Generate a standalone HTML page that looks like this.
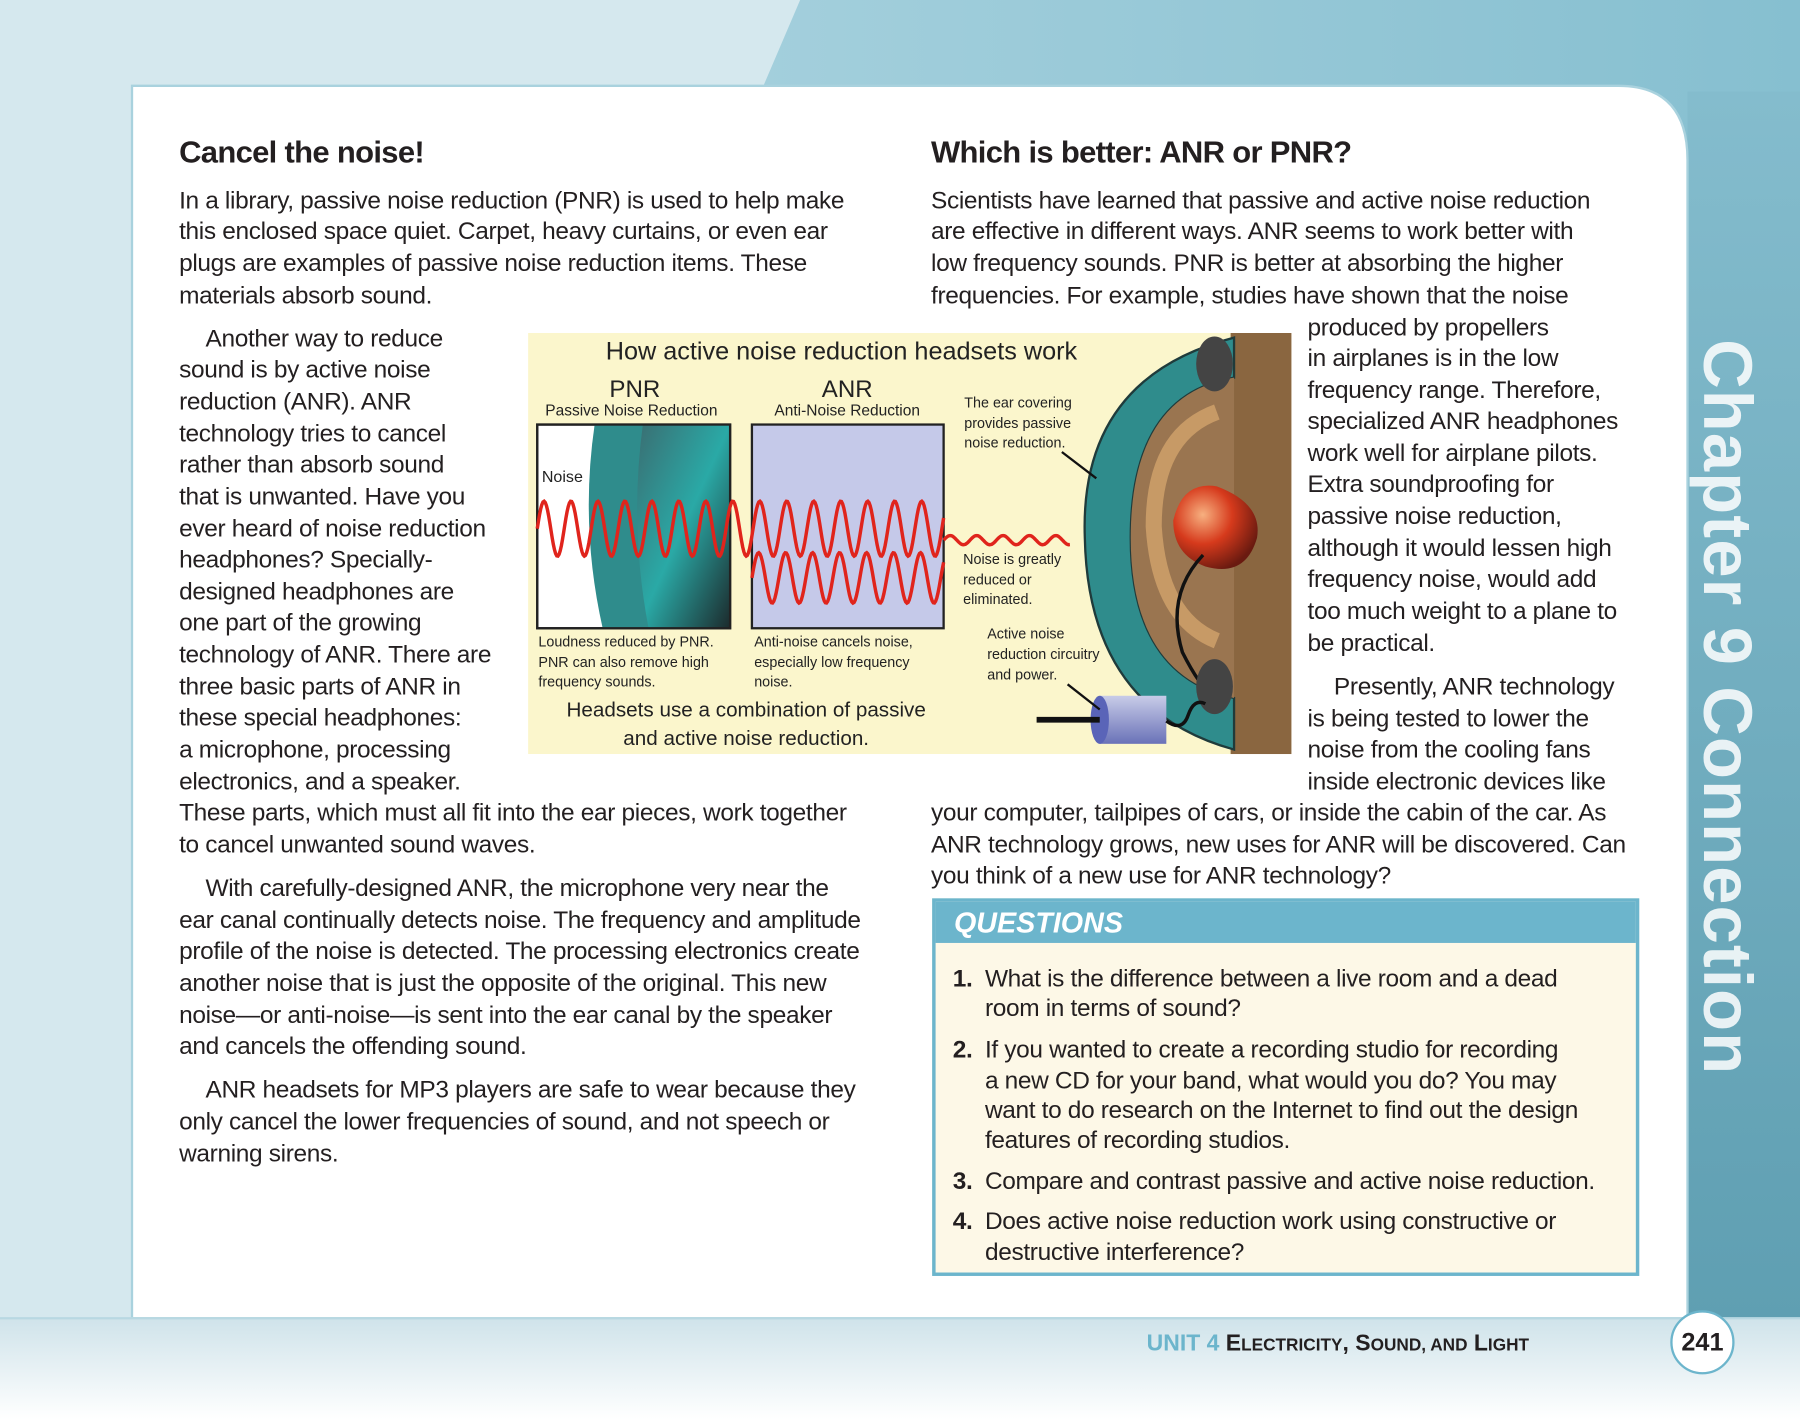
<!DOCTYPE html>
<html><head><meta charset="utf-8">
<style>
html,body{margin:0;padding:0;width:1800px;height:1419px;overflow:hidden;background:#fff}
#wrap{position:absolute;left:0;top:0;width:1568px;height:1240px;transform:scale(1.14796,1.14435);transform-origin:0 0;font-family:"Liberation Sans",sans-serif;color:#231f20}
.l{position:absolute;white-space:nowrap;font-size:21.3px;line-height:28px;letter-spacing:-0.3px;margin-top:2px}
.h{position:absolute;white-space:nowrap;font-size:27px;font-weight:bold;letter-spacing:-0.6px;margin-top:1px}
.n{font-weight:bold}
</style></head><body>
<div id="wrap">
<svg width="1568" height="1240" style="position:absolute;left:0;top:0">
<defs>
<linearGradient id="bgR" x1="0" x2="1" y1="0" y2="0"><stop offset="0" stop-color="#a3cfdc"/><stop offset="1" stop-color="#86bfd0"/></linearGradient>
<linearGradient id="strip" x1="0" x2="0" y1="0" y2="1"><stop offset="0" stop-color="#84bccd"/><stop offset="1" stop-color="#5f9fb2"/></linearGradient>
<linearGradient id="foot" x1="0" x2="0" y1="0" y2="1"><stop offset="0" stop-color="#cfe3ea"/><stop offset="1" stop-color="#ffffff"/></linearGradient>
</defs>
<rect x="0" y="0" width="1568" height="1240" fill="#d5e8ee"/>
<polygon points="697,0 1568,0 1568,1152 665,1152 665,75" fill="url(#bgR)"/>
<rect x="1470" y="80" width="98" height="1072" fill="url(#strip)"/>
<path d="M115,75 L1410,75 Q1470,75 1470,140 L1470,1152 L115,1152 Z" fill="#fff" stroke="#a9d2de" stroke-width="2"/>
<rect x="0" y="1152" width="1568" height="88" fill="url(#foot)"/>
<line x1="0" y1="1152" x2="1568" y2="1152" stroke="#b8d8e2" stroke-width="2"/>
</svg>

<div style="position:absolute;left:1505px;top:618px;transform:translate(-50%,-50%) rotate(90deg);white-space:nowrap;font-size:60px;font-weight:bold;color:#fff;letter-spacing:1px;opacity:.85">Chapter 9 Connection</div>

<div class="h" style="left:156px;top:117px">Cancel the noise!</div>
<div class="h" style="left:811px;top:117px">Which is better: ANR or PNR?</div>

<div>
<div class="l" style="left:156px;top:159px">In a library, passive noise reduction (PNR) is used to help make</div>
<div class="l" style="left:156px;top:186px">this enclosed space quiet. Carpet, heavy curtains, or even ear</div>
<div class="l" style="left:156px;top:214px">plugs are examples of passive noise reduction items. These</div>
<div class="l" style="left:156px;top:242px">materials absorb sound.</div>
<div class="l" style="left:179px;top:280px">Another way to reduce</div>
<div class="l" style="left:156px;top:307px">sound is by active noise</div>
<div class="l" style="left:156px;top:335px">reduction (ANR). ANR</div>
<div class="l" style="left:156px;top:363px">technology tries to cancel</div>
<div class="l" style="left:156px;top:390px">rather than absorb sound</div>
<div class="l" style="left:156px;top:418px">that is unwanted. Have you</div>
<div class="l" style="left:156px;top:446px">ever heard of noise reduction</div>
<div class="l" style="left:156px;top:473px">headphones? Specially-</div>
<div class="l" style="left:156px;top:501px">designed headphones are</div>
<div class="l" style="left:156px;top:528px">one part of the growing</div>
<div class="l" style="left:156px;top:556px">technology of ANR. There are</div>
<div class="l" style="left:156px;top:584px">three basic parts of ANR in</div>
<div class="l" style="left:156px;top:611px">these special headphones:</div>
<div class="l" style="left:156px;top:639px">a microphone, processing</div>
<div class="l" style="left:156px;top:667px">electronics, and a speaker.</div>
<div class="l" style="left:156px;top:694px">These parts, which must all fit into the ear pieces, work together</div>
<div class="l" style="left:156px;top:722px">to cancel unwanted sound waves.</div>
<div class="l" style="left:179px;top:760px">With carefully-designed ANR, the microphone very near the</div>
<div class="l" style="left:156px;top:788px">ear canal continually detects noise. The frequency and amplitude</div>
<div class="l" style="left:156px;top:815px">profile of the noise is detected. The processing electronics create</div>
<div class="l" style="left:156px;top:843px">another noise that is just the opposite of the original. This new</div>
<div class="l" style="left:156px;top:871px">noise—or anti-noise—is sent into the ear canal by the speaker</div>
<div class="l" style="left:156px;top:898px">and cancels the offending sound.</div>
<div class="l" style="left:179px;top:936px">ANR headsets for MP3 players are safe to wear because they</div>
<div class="l" style="left:156px;top:964px">only cancel the lower frequencies of sound, and not speech or</div>
<div class="l" style="left:156px;top:992px">warning sirens.</div>
</div>

<div>
<div class="l" style="left:811px;top:159px">Scientists have learned that passive and active noise reduction</div>
<div class="l" style="left:811px;top:186px">are effective in different ways. ANR seems to work better with</div>
<div class="l" style="left:811px;top:214px">low frequency sounds. PNR is better at absorbing the higher</div>
<div class="l" style="left:811px;top:242px">frequencies. For example, studies have shown that the noise</div>
<div class="l" style="left:1139px;top:270px">produced by propellers</div>
<div class="l" style="left:1139px;top:297px">in airplanes is in the low</div>
<div class="l" style="left:1139px;top:325px">frequency range. Therefore,</div>
<div class="l" style="left:1139px;top:352px">specialized ANR headphones</div>
<div class="l" style="left:1139px;top:380px">work well for airplane pilots.</div>
<div class="l" style="left:1139px;top:407px">Extra soundproofing for</div>
<div class="l" style="left:1139px;top:435px">passive noise reduction,</div>
<div class="l" style="left:1139px;top:463px">although it would lessen high</div>
<div class="l" style="left:1139px;top:490px">frequency noise, would add</div>
<div class="l" style="left:1139px;top:518px">too much weight to a plane to</div>
<div class="l" style="left:1139px;top:546px">be practical.</div>
<div class="l" style="left:1162px;top:584px">Presently, ANR technology</div>
<div class="l" style="left:1139px;top:612px">is being tested to lower the</div>
<div class="l" style="left:1139px;top:639px">noise from the cooling fans</div>
<div class="l" style="left:1139px;top:667px">inside electronic devices like</div>
<div class="l" style="left:811px;top:694px">your computer, tailpipes of cars, or inside the cabin of the car. As</div>
<div class="l" style="left:811px;top:722px">ANR technology grows, new uses for ANR will be discovered. Can</div>
<div class="l" style="left:811px;top:749px">you think of a new use for ANR technology?</div>
</div>

<div style="position:absolute;left:812px;top:785px;width:610px;height:324px;border:3px solid #6cb5cc;background:#fdf8e7">
<div style="height:36px;background:#6cb5cc;color:#fff;font-weight:bold;font-style:italic;font-size:25px;line-height:38px;padding-left:16px">QUESTIONS</div>
</div>
<div>
<div class="l" style="left:830px;top:839px"><span class="n">1.</span></div>
<div class="l" style="left:858px;top:839px">What is the difference between a live room and a dead</div>
<div class="l" style="left:858px;top:865px">room in terms of sound?</div>
<div class="l" style="left:830px;top:901px"><span class="n">2.</span></div>
<div class="l" style="left:858px;top:901px">If you wanted to create a recording studio for recording</div>
<div class="l" style="left:858px;top:928px">a new CD for your band, what would you do? You may</div>
<div class="l" style="left:858px;top:954px">want to do research on the Internet to find out the design</div>
<div class="l" style="left:858px;top:980px">features of recording studios.</div>
<div class="l" style="left:830px;top:1016px"><span class="n">3.</span></div>
<div class="l" style="left:858px;top:1016px">Compare and contrast passive and active noise reduction.</div>
<div class="l" style="left:830px;top:1051px"><span class="n">4.</span></div>
<div class="l" style="left:858px;top:1051px">Does active noise reduction work using constructive or</div>
<div class="l" style="left:858px;top:1078px">destructive interference?</div>
</div>

<svg id="diag" width="665" height="368" viewBox="460 291 665 368" style="position:absolute;left:460px;top:291px" font-family="Liberation Sans, sans-serif">
<defs>
<linearGradient id="dark" x1="0" x2="1" y1="0" y2="1"><stop offset="0" stop-color="#3a6e72"/><stop offset=".5" stop-color="#2aa9a6"/><stop offset="1" stop-color="#1c2a2c"/></linearGradient>
<radialGradient id="plug" cx=".35" cy=".35" r=".7"><stop offset="0" stop-color="#f7b080"/><stop offset=".5" stop-color="#d63a1c"/><stop offset="1" stop-color="#6a1a10"/></radialGradient>
<linearGradient id="cyl" x1="0" x2="0" y1="0" y2="1"><stop offset="0" stop-color="#c8cce8"/><stop offset="1" stop-color="#6a72b8"/></linearGradient>
</defs>
<rect x="460" y="291" width="665" height="368" fill="#fbf6cc"/>
<rect x="1072" y="291" width="53" height="368" fill="#8a6640"/>
<path d="M1075,295 Q940,330 945,470 Q948,620 1075,655 L1075,610 Q985,590 985,470 Q985,345 1075,330 Z" fill="#2f8c8c" stroke="#1f3b3b" stroke-width="2"/>
<path d="M1075,330 Q985,345 985,470 Q985,590 1075,610 Z" fill="#9a7550"/>
<path d="M1060,360 Q1005,380 1005,460 Q1010,540 1060,560" fill="none" stroke="#c79a66" stroke-width="14"/>
<path d="M1022,455 Q1030,420 1060,425 Q1100,440 1095,470 Q1085,505 1050,495 Q1022,485 1022,455 Z" fill="url(#plug)"/>
<path d="M1048,485 Q1015,520 1030,570 Q1045,600 1058,610" fill="none" stroke="#111" stroke-width="3"/>
<ellipse cx="1058" cy="318" rx="16" ry="24" fill="#444"/>
<ellipse cx="1058" cy="600" rx="16" ry="24" fill="#444"/>
<rect x="958" y="608" width="58" height="42" fill="url(#cyl)"/>
<ellipse cx="958" cy="629" rx="8" ry="21" fill="#5a64b8"/>
<line x1="903" y1="629" x2="958" y2="629" stroke="#111" stroke-width="5"/>
<path d="M1016,630 Q1030,640 1035,625 Q1040,610 1050,615" fill="none" stroke="#111" stroke-width="3"/>
<line x1="925" y1="395" x2="955" y2="418" stroke="#111" stroke-width="2"/>
<line x1="930" y1="598" x2="958" y2="620" stroke="#111" stroke-width="2"/>
<rect x="468" y="371" width="168" height="178" fill="#fff" stroke="#222" stroke-width="2"/>
<path d="M518,371 Q505,460 525,549 L636,549 L636,371 Z" fill="#2f8c8c"/>
<path d="M560,371 Q548,460 565,549 L636,549 L636,371 Z" fill="url(#dark)"/>
<rect x="468" y="371" width="168" height="178" fill="none" stroke="#222" stroke-width="2"/>
<rect x="655" y="371" width="167" height="178" fill="#c5c9e9" stroke="#222" stroke-width="2"/>
<path id="wave1" fill="none" stroke="#e0241c" stroke-width="3"/>
<path id="wave2" fill="none" stroke="#e0241c" stroke-width="3"/>
<path id="wave3" fill="none" stroke="#e0241c" stroke-width="3"/>
<text x="733" y="314" font-size="22" text-anchor="middle" fill="#222">How active noise reduction headsets work</text>
<text x="553" y="347" font-size="21" text-anchor="middle" fill="#222">PNR</text>
<text x="550" y="363" font-size="13.5" text-anchor="middle" fill="#222">Passive Noise Reduction</text>
<text x="738" y="347" font-size="21" text-anchor="middle" fill="#222">ANR</text>
<text x="738" y="363" font-size="13.5" text-anchor="middle" fill="#222">Anti-Noise Reduction</text>
<text x="472" y="421" font-size="14" fill="#222">Noise</text>
<g font-size="12.5" fill="#222">
<text x="840" y="356">The ear covering</text><text x="840" y="374">provides passive</text><text x="840" y="391">noise reduction.</text>
<text x="839" y="493">Noise is greatly</text><text x="839" y="511">reduced or</text><text x="839" y="528">eliminated.</text>
<text x="860" y="558">Active noise</text><text x="860" y="576">reduction circuitry</text><text x="860" y="594">and power.</text>
<text x="469" y="565">Loudness reduced by PNR.</text><text x="469" y="583">PNR can also remove high</text><text x="469" y="600">frequency sounds.</text>
<text x="657" y="565">Anti-noise cancels noise,</text><text x="657" y="583">especially low frequency</text><text x="657" y="600">noise.</text>
</g>
<text x="650" y="626" font-size="18" text-anchor="middle" fill="#222">Headsets use a combination of passive</text>
<text x="650" y="651" font-size="18" text-anchor="middle" fill="#222">and active noise reduction.</text>
</svg>

<div style="position:absolute;right:236px;top:1163px;white-space:nowrap;font-weight:bold;font-size:20px;color:#231f20"><span style="color:#6cb5cc">UNIT 4 </span>E<span style="font-size:15px">LECTRICITY</span>, S<span style="font-size:15px">OUND, AND</span> L<span style="font-size:15px">IGHT</span></div>
<div style="position:absolute;left:1455px;top:1145px;width:52px;height:52px;border:2px solid #6cb5cc;border-radius:50%;background:#fff;text-align:center;line-height:52px;font-weight:bold;font-size:22px">241</div>
</div>
<script>
function sine(id,x0,x1,cy,amp,per){
  var d='';
  for(var x=x0;x<=x1;x+=1){d+=(x===x0?'M':'L')+x+','+(cy-amp*Math.sin((x-x0)/per*2*Math.PI)).toFixed(1);}
  document.getElementById(id).setAttribute('d',d);
}
sine('wave1',468,822,462,24,23.5);
sine('wave2',655,822,505,22,23.5);
sine('wave3',822,932,472,4,23);
</script>
</body></html>
